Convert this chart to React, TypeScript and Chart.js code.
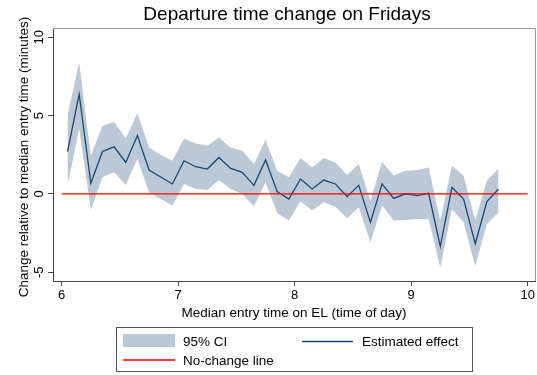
import React, { useEffect, useRef } from "react";
import { Chart, registerables } from "chart.js";

Chart.register(...registerables);

const TITLE = "Departure time change on Fridays";
const X_TITLE = "Median entry time on EL (time of day)";
const Y_TITLE = "Change relative to median entry time (minutes)";
const LEGEND_CI = "95% CI";
const LEGEND_EST = "Estimated effect";
const LEGEND_ZERO = "No-change line";

const TIMES = [
  6.05, 6.15, 6.25, 6.35, 6.45, 6.55, 6.65, 6.75, 6.85, 6.95,
  7.05, 7.15, 7.25, 7.35, 7.45, 7.55, 7.65, 7.75, 7.85, 7.95,
  8.05, 8.15, 8.25, 8.35, 8.45, 8.55, 8.65, 8.75, 8.85, 8.95,
  9.05, 9.15, 9.25, 9.35, 9.45, 9.55, 9.65, 9.75,
];
const ESTIMATE = [
  2.71, 6.37, 0.68, 2.71, 3.01, 2.01, 3.73, 1.53, 1.08, 0.64,
  2.12, 1.74, 1.59, 2.33, 1.63, 1.38, 0.55, 2.17, 0.15, -0.32,
  0.96, 0.32, 0.89, 0.64, -0.17, 0.55, -1.81, 0.64, -0.28, 0.0,
  -0.11, 0.04, -3.34, 0.42, -0.32, -3.18, -0.49, 0.32,
];
const CI_UPPER = [
  5.05, 8.38, 2.44, 4.35, 4.6, 3.56, 5.16, 2.97, 2.5, 2.12,
  3.54, 3.22, 3.08, 3.6, 2.97, 2.76, 1.91, 3.46, 1.48, 1.06,
  2.29, 1.69, 2.29, 2.01, 1.21, 1.91, -0.43, 2.06, 1.17, 1.48,
  1.53, 1.69, -1.7, 1.8, 1.17, -1.7, 0.85, 1.63,
];
const CI_LOWER = [
  0.53, 4.14, -1.0, 1.06, 1.38, 0.57, 2.23, 0.1, -0.32, -0.74,
  0.64, 0.32, 0.25, 0.89, 0.32, 0.0, -0.79, 0.74, -1.23, -1.7,
  -0.47, -1.06, -0.53, -0.81, -1.55, -0.85, -3.08, -0.74, -1.7, -1.66,
  -1.59, -1.59, -4.71, -0.96, -1.81, -4.61, -1.91, -1.17,
];
const NO_CHANGE_X = [6, 10];
const NO_CHANGE_Y = [0, 0];
const X_TICKS = [6, 7, 8, 9, 10];
const Y_TICKS = [-5, 0, 5, 10];

const FONT = "'Liberation Sans', Arial, Helvetica, sans-serif";
const CI_COLOR = "rgb(187,201,214)";
const EST_COLOR = "#1a476f";
const ZERO_COLOR = "#ff0000";
const AXIS_COLOR = "#444444";

const pts = (xs: number[], ys: number[]) => xs.map((x, i) => ({ x, y: ys[i] }));

const decorPlugin = {
  id: "decor",
  beforeDraw(chart: any) {
    const { ctx } = chart;
    ctx.save();
    ctx.fillStyle = "#ffffff";
    ctx.fillRect(0, 0, chart.width, chart.height);
    ctx.restore();
  },
  afterDraw(chart: any) {
    const { ctx, chartArea } = chart;
    const yScale = chart.scales.y;
    ctx.save();

    // top and right frame
    ctx.strokeStyle = "#9a9a9a";
    ctx.lineWidth = 1;
    ctx.beginPath();
    ctx.moveTo(chartArea.left, chartArea.top + 0.5);
    ctx.lineTo(chartArea.right + 0.5, chartArea.top + 0.5);
    ctx.lineTo(chartArea.right + 0.5, chartArea.bottom);
    ctx.stroke();

    // title
    ctx.fillStyle = "#000";
    ctx.font = `19px ${FONT}`;
    ctx.textAlign = "center";
    ctx.textBaseline = "alphabetic";
    ctx.fillText(TITLE, 287, 19.5);

    // x axis title
    ctx.font = `13.5px ${FONT}`;
    ctx.fillText(X_TITLE, (chartArea.left + chartArea.right) / 2, 317);

    // y axis title (rotated)
    ctx.save();
    ctx.translate(28, 157);
    ctx.rotate(-Math.PI / 2);
    ctx.fillText(Y_TITLE, 0, 0);
    ctx.restore();

    // y tick labels (rotated)
    ctx.font = `13px ${FONT}`;
    Y_TICKS.forEach((v) => {
      const py = yScale.getPixelForValue(v);
      ctx.save();
      ctx.translate(42.5, py);
      ctx.rotate(-Math.PI / 2);
      ctx.fillText(String(v), 0, 0);
      ctx.restore();
    });

    // legend
    const L = 116.5, T = 327.5, R = 472.5, B = 371.5;
    ctx.strokeStyle = "#555";
    ctx.lineWidth = 1;
    ctx.strokeRect(L, T, R - L, B - T);
    ctx.fillStyle = CI_COLOR;
    ctx.fillRect(123, 334, 52, 13);
    ctx.strokeStyle = EST_COLOR;
    ctx.lineWidth = 1.3;
    ctx.beginPath();
    ctx.moveTo(302, 341.5);
    ctx.lineTo(353, 341.5);
    ctx.stroke();
    ctx.strokeStyle = ZERO_COLOR;
    ctx.beginPath();
    ctx.moveTo(123, 360);
    ctx.lineTo(175, 360);
    ctx.stroke();
    ctx.fillStyle = "#000";
    ctx.font = `13.5px ${FONT}`;
    ctx.textAlign = "left";
    ctx.fillText(LEGEND_CI, 183, 345.5);
    ctx.fillText(LEGEND_EST, 362, 345.5);
    ctx.fillText(LEGEND_ZERO, 183, 365);

    ctx.restore();
  },
};

export default function App() {
  const canvasRef = useRef<HTMLCanvasElement | null>(null);

  useEffect(() => {
    if (!canvasRef.current) return;
    const chart = new Chart(canvasRef.current, {
      type: "line",
      data: {
        datasets: [
          {
            label: "upper",
            data: pts(TIMES, CI_UPPER),
            borderWidth: 0,
            borderColor: "rgba(0,0,0,0)",
            backgroundColor: CI_COLOR,
            pointRadius: 0,
            fill: "+1",
            order: 3,
          },
          {
            label: "lower",
            data: pts(TIMES, CI_LOWER),
            borderWidth: 0,
            borderColor: "rgba(0,0,0,0)",
            pointRadius: 0,
            fill: false,
            order: 4,
          },
          {
            label: LEGEND_EST,
            data: pts(TIMES, ESTIMATE),
            borderColor: EST_COLOR,
            borderWidth: 1.3,
            pointRadius: 0,
            fill: false,
            tension: 0,
            order: 1,
          },
          {
            label: LEGEND_ZERO,
            data: pts(NO_CHANGE_X, NO_CHANGE_Y),
            borderColor: ZERO_COLOR,
            borderWidth: 1.3,
            pointRadius: 0,
            fill: false,
            order: 0,
          },
        ],
      },
      options: {
        animation: false,
        responsive: false,
        devicePixelRatio: 1,
        layout: { padding: { left: 0, top: 28, right: 2, bottom: 0 } },
        plugins: {
          legend: { display: false },
          title: { display: false },
          tooltip: { enabled: false },
        },
        scales: {
          x: {
            type: "linear",
            min: 5.9253,
            max: 10.063,
            afterBuildTicks: (scale: any) => {
              scale.ticks = X_TICKS.map((value) => ({ value }));
            },
            afterFit: (scale: any) => {
              scale.height = 94;
            },
            grid: {
              display: true,
              drawOnChartArea: false,
              drawTicks: true,
              tickLength: 5,
              color: AXIS_COLOR,
            },
            border: { display: true, color: AXIS_COLOR, width: 1 },
            ticks: {
              color: "#000",
              font: { family: FONT, size: 13 },
              padding: 2,
              maxRotation: 0,
              minRotation: 0,
            },
          },
          y: {
            type: "linear",
            min: -5.555,
            max: 10.594,
            afterBuildTicks: (scale: any) => {
              scale.ticks = Y_TICKS.map((value) => ({ value }));
            },
            afterFit: (scale: any) => {
              scale.width = 53;
            },
            grid: {
              display: true,
              drawOnChartArea: false,
              drawTicks: true,
              tickLength: 5,
              color: AXIS_COLOR,
            },
            border: { display: true, color: AXIS_COLOR, width: 1 },
            ticks: {
              color: "rgba(0,0,0,0)",
              font: { family: FONT, size: 12.5 },
            },
          },
        },
      },
      plugins: [decorPlugin],
    });
    return () => chart.destroy();
  }, []);

  return (
    <div style={{ position: "fixed", left: 0, top: 0, width: 537, height: 375 }}>
      <canvas ref={canvasRef} width={537} height={375} style={{ width: 537, height: 375 }} />
    </div>
  );
}
